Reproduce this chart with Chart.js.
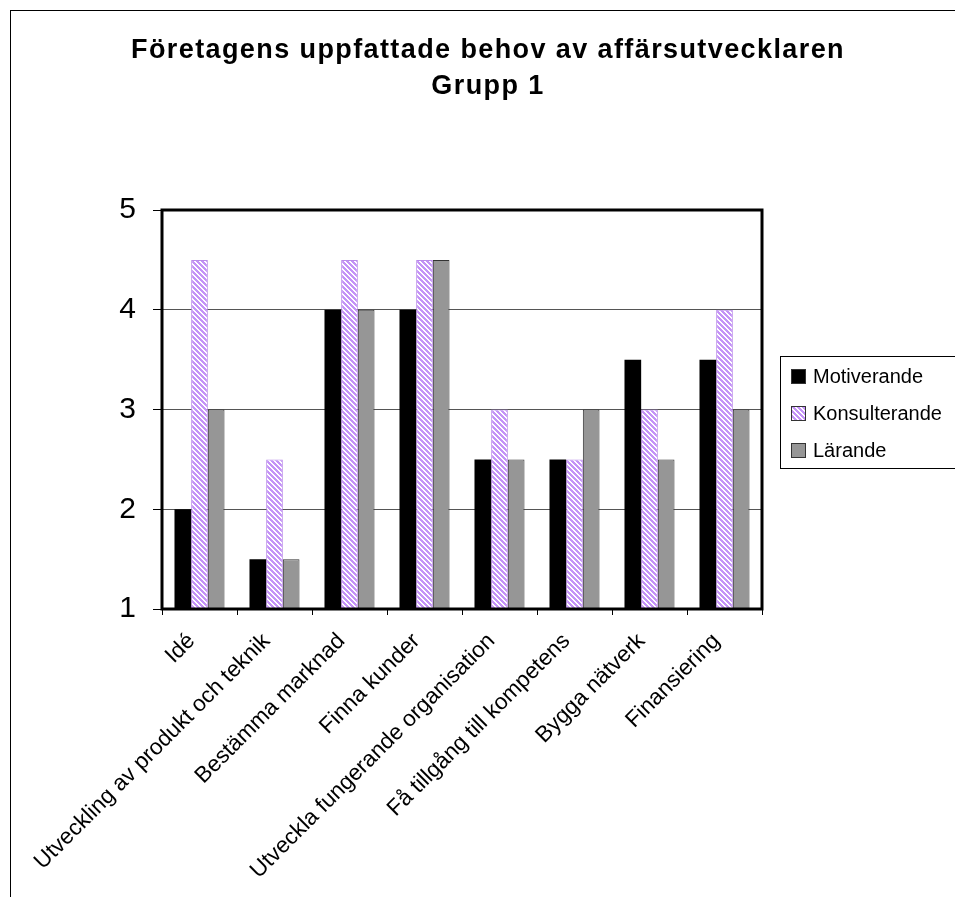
<!DOCTYPE html>
<html lang="sv">
<head>
    <meta charset="UTF-8">
    <title>Företagens uppfattade behov av affärsutvecklaren</title>
    <style>
        body {
            margin: 0;
            background-color: white;
        }
        canvas {
            display: block;
        }
    </style>
</head>
<body>
    <canvas id="behovChart" width="955" height="897"></canvas>

    <script src="https://cdn.jsdelivr.net/npm/chart.js"></script>

    <script>
        const titleLines = ['Företagens uppfattade behov av affärsutvecklaren', 'Grupp 1'];
        const categories = [
            'Idé',
            'Utveckling av produkt och teknik',
            'Bestämma marknad',
            'Finna kunder',
            'Utveckla fungerande organisation',
            'Få tillgång till kompetens',
            'Bygga nätverk',
            'Finansiering'
        ];
        const seriesNames = ['Motiverande', 'Konsulterande', 'Lärande'];
        const motiverande = [2, 1.5, 4, 4, 2.5, 2.5, 3.5, 3.5];
        const konsulterande = [4.5, 2.5, 4.5, 4.5, 3, 2.5, 3, 4];
        const larande = [3, 1.5, 4, 4.5, 2.5, 3, 2.5, 3];
        const yMin = 1;
        const yMax = 5;

        const FONT = "'Liberation Sans', Arial, sans-serif";

        // diagonal purple/white hatch used for the "Konsulterande" bars
        function stripePattern(fg, bg) {
            const n = 5;
            const c = document.createElement('canvas');
            c.width = n;
            c.height = n;
            const g = c.getContext('2d');
            g.fillStyle = bg;
            g.fillRect(0, 0, n, n);
            g.fillStyle = fg;
            for (let y = 0; y < n; y++) {
                for (let x = 0; x < n; x++) {
                    if ((((x - y) % n) + n) % n < 3) g.fillRect(x, y, 1, 1);
                }
            }
            return g.createPattern(c, 'repeat');
        }

        // outer frame, plot border, title and boxed legend
        const decorations = {
            id: 'decorations',
            afterDatasetsDraw(chart) {
                const ctx = chart.ctx;
                const a = chart.chartArea;
                ctx.save();
                ctx.strokeStyle = '#000';
                ctx.lineWidth = 3;
                ctx.strokeRect(a.left, a.top, a.right - a.left, a.bottom - a.top);
                ctx.restore();
            },
            afterDraw(chart) {
                const ctx = chart.ctx;
                ctx.save();

                ctx.strokeStyle = '#000';
                ctx.lineWidth = 1;
                ctx.strokeRect(10.5, 10.5, 1000, 1000);

                ctx.fillStyle = '#000';
                ctx.textAlign = 'center';
                ctx.textBaseline = 'alphabetic';
                ctx.font = 'bold 27px ' + FONT;
                ctx.letterSpacing = '1.4px';
                ctx.fillText(titleLines[0], 488, 58);
                ctx.fillText(titleLines[1], 488, 94);
                ctx.letterSpacing = '0px';

                // legend
                ctx.strokeRect(780.5, 356.5, 300, 112);
                ctx.font = '20px ' + FONT;
                ctx.textAlign = 'left';
                ctx.textBaseline = 'middle';
                const rows = [376, 413, 450];
                chart.data.datasets.forEach((ds, i) => {
                    const y = rows[i];
                    ctx.fillStyle = ds.backgroundColor;
                    ctx.fillRect(791, y - 7, 15, 15);
                    ctx.lineWidth = 1;
                    ctx.strokeStyle = '#333';
                    ctx.strokeRect(791.5, y - 6.5, 14, 14);
                    ctx.fillStyle = '#000';
                    ctx.fillText(ds.label, 813, y + 1);
                });
                ctx.restore();
            }
        };

        window.onload = function() {
            const ctx = document.getElementById('behovChart').getContext('2d');
            const hatch = stripePattern('#c493f7', '#ffffff');

            new Chart(ctx, {
                type: 'bar',
                data: {
                    labels: categories,
                    datasets: [{
                        label: seriesNames[0],
                        data: motiverande,
                        backgroundColor: '#000000',
                        borderWidth: 0
                    }, {
                        label: seriesNames[1],
                        data: konsulterande,
                        backgroundColor: hatch,
                        borderColor: '#b98ae8',
                        borderWidth: 1
                    }, {
                        label: seriesNames[2],
                        data: larande,
                        backgroundColor: '#969696',
                        borderColor: '#333333',
                        borderWidth: 1
                    }]
                },
                options: {
                    responsive: false,
                    animation: false,
                    layout: {
                        padding: { left: 0, top: 210, right: 193, bottom: 0 }
                    },
                    datasets: {
                        bar: {
                            categoryPercentage: 0.667,
                            barPercentage: 1
                        }
                    },
                    plugins: {
                        legend: { display: false },
                        title: { display: false },
                        tooltip: { enabled: false }
                    },
                    scales: {
                        x: {
                            afterFit(scale) {
                                scale.height = 288;
                                scale.paddingLeft = 0;
                                scale.paddingRight = 0;
                            },
                            border: { display: false },
                            grid: {
                                offset: true,
                                drawOnChartArea: false,
                                drawTicks: true,
                                tickLength: 6,
                                tickColor: '#000'
                            },
                            ticks: {
                                autoSkip: false,
                                minRotation: 45,
                                maxRotation: 45,
                                padding: 13,
                                labelOffset: -8,
                                color: '#000',
                                font: { family: FONT, size: 22.5 }
                            }
                        },
                        y: {
                            min: yMin,
                            max: yMax,
                            afterFit(scale) {
                                scale.width = 162;
                                scale.paddingTop = 0;
                                scale.paddingBottom = 0;
                            },
                            border: { display: false },
                            grid: {
                                color: '#555',
                                lineWidth: 1,
                                tickLength: 9,
                                tickColor: '#000'
                            },
                            ticks: {
                                stepSize: 1,
                                padding: 17,
                                color: '#000',
                                font: { family: FONT, size: 30 }
                            }
                        }
                    }
                },
                plugins: [decorations]
            });
        };
    </script>
</body>
</html>
